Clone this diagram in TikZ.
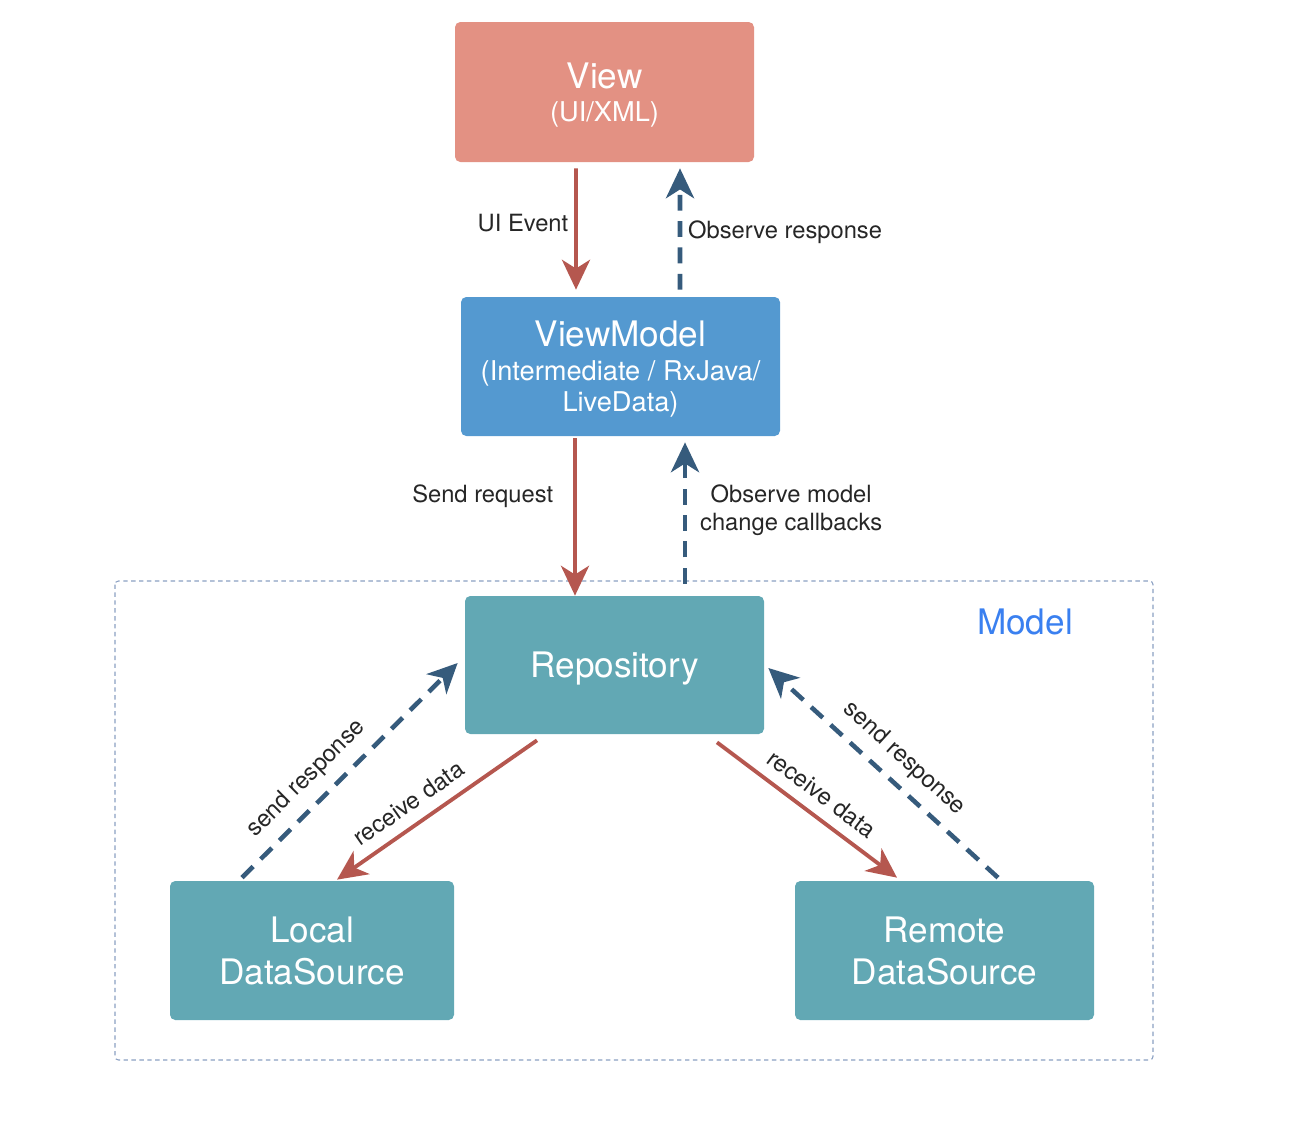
\documentclass[tikz,border=0pt]{standalone}
\usepackage{fontspec}
\setmainfont{TeX Gyre Heros}
\usetikzlibrary{arrows.meta}
\definecolor{viewred}{HTML}{E39183}
\definecolor{vmblue}{HTML}{5499D0}
\definecolor{repoteal}{HTML}{62A8B4}
\definecolor{reqred}{HTML}{B5574F}
\definecolor{respblue}{HTML}{365B7C}
\definecolor{modelblue}{HTML}{3A80F0}
\definecolor{modelline}{HTML}{8A9FC2}
\begin{document}
\begin{tikzpicture}[
    box/.style={rectangle, rounded corners=3pt, text=white, align=center, inner sep=0pt,
        text depth=0pt, font=\fontsize{20}{24}\selectfont},
    req/.style={-{Stealth[length=17pt,width=16pt,inset=5pt]}, draw=reqred, line width=2.2pt},
    resp/.style={-{Stealth[length=17pt,width=16pt,inset=5pt]}, draw=respblue, line width=2.6pt,
        dash pattern=on 9pt off 6pt},
    lbl/.style={font=\fontsize{13.5}{16}\selectfont, text=black!85}
]
\useasboundingbox (0,0) rectangle (26.04,-22.4);

% model frame
\draw[modelline, line width=0.6pt, dash pattern=on 2.5pt off 2pt, rounded corners=2pt]
    (2.3,-11.62) rectangle (23.06,-21.2);
\node[text=modelblue, font=\fontsize{20}{24}\selectfont](modellbl) at (20.5,-12.44){Model};

% boxes
\node[box, fill=viewred, minimum width=5.98cm, minimum height=2.8cm](view) at (12.09,-1.84)
    {View\\[-5pt]{\fontsize{15.5}{18}\selectfont (UI/XML)}};
\node[box, fill=vmblue, minimum width=6.38cm, minimum height=2.78cm](vm) at (12.41,-7.33)
    {ViewModel\\[-5pt]{\fontsize{15.5}{18}\selectfont (Intermediate / RxJava/}\\[-6pt]
     {\fontsize{15.5}{18}\selectfont LiveData)}};
\node[box, fill=repoteal, minimum width=5.98cm, minimum height=2.76cm](repo) at (12.29,-13.3)
    {Repository};
\node[box, fill=repoteal, minimum width=5.68cm, minimum height=2.78cm](local) at (6.24,-19.01)
    {Local\\DataSource};
\node[box, fill=repoteal, minimum width=5.98cm, minimum height=2.78cm](remote) at (18.89,-19.01)
    {Remote\\DataSource};

% view <-> viewmodel
\draw[req] ([xshift=-0.57cm,yshift=-0.12cm]view.south) -- ([xshift=-0.89cm,yshift=0.14cm]vm.north)
    node[lbl, left, pos=0.45]{UI Event};
\draw[resp] ([xshift=1.19cm,yshift=0.14cm]vm.north) -- ([xshift=1.51cm,yshift=-0.12cm]view.south)
    node[lbl, right, pos=0.47]{Observe response};

% viewmodel <-> repository
\draw[req] ([xshift=-0.91cm,yshift=-0.04cm]vm.south) -- ([xshift=-0.79cm]repo.north)
    node[lbl, left=8pt, pos=0.37]{Send request};
\draw[resp] ([xshift=1.41cm,yshift=0.24cm]repo.north) -- ([xshift=1.29cm,yshift=-0.12cm]vm.south)
    node[lbl, right=4pt, pos=0.52, align=center]{Observe model\\change callbacks};

% repository <-> data sources
\draw[resp] ([xshift=-1.4cm,yshift=0.06cm]local.north) -- ([xshift=-0.14cm,yshift=0.04cm]repo.west)
    node[lbl, sloped, above=3pt, pos=0.38]{send response};
\draw[req] ([xshift=-1.55cm,yshift=-0.12cm]repo.south) -- ([xshift=0.5cm,yshift=0.02cm]local.north)
    node[lbl, sloped, above=3pt, pos=0.58]{receive data};
\draw[req] ([xshift=2.05cm,yshift=-0.16cm]repo.south) -- ([xshift=-0.95cm,yshift=0.06cm]remote.north)
    node[lbl, sloped, above=3pt, pos=0.51]{receive data};
\draw[resp] ([xshift=1.07cm,yshift=0.06cm]remote.north) -- ([xshift=0.08cm,yshift=-0.06cm]repo.east)
    node[lbl, sloped, above=3pt, pos=0.48]{send response};
\end{tikzpicture}
\end{document}
